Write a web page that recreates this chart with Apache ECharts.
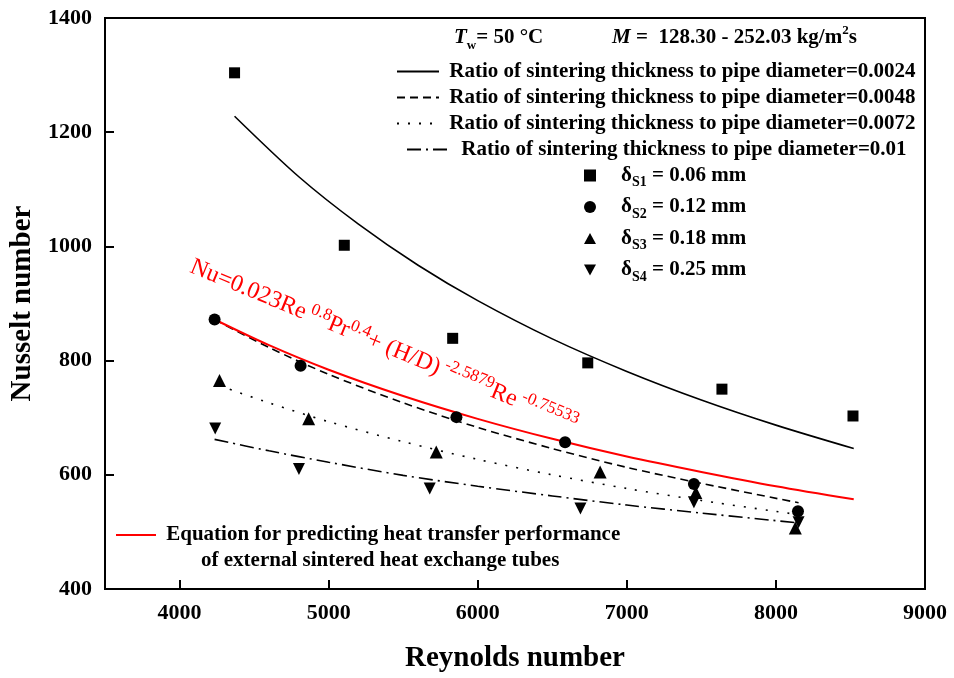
<!DOCTYPE html>
<html>
<head>
<meta charset="utf-8">
<title>Nusselt number vs Reynolds number</title>
<script src="https://cdn.jsdelivr.net/npm/echarts@6/dist/echarts.min.js"></script>
<style>
  html, body { margin: 0; padding: 0; background: #fff; }
  #chart { width: 954px; height: 678px; }
</style>
</head>
<body>
<div id="chart"></div>
<script>
// Measured points for each sintering thickness
const reynoldsS1 = [4369, 5105, 5832, 6738, 7638, 8517];
const nusseltS1  = [1304, 1002, 839, 796, 750, 703];
const reynoldsS2 = [4235, 4812, 5857, 6586, 7450, 8148];
const nusseltS2  = [872, 791, 701, 657, 584, 536];
const reynoldsS3 = [4268, 4866, 5722, 6821, 7463, 8130];
const nusseltS3  = [765, 698, 640, 605, 569, 507];
const reynoldsS4 = [4239, 4801, 5678, 6689, 7450, 8152];
const nusseltS4  = [681, 610, 576, 541, 552, 517];

// Fitted curves for each thickness-to-diameter ratio
const fitRe0024 = [4369, 4800, 5200, 5600, 6000, 6500, 7000, 7500, 8000, 8522];
const fitNu0024 = [1228, 1122, 1039, 967, 905, 838, 781, 731, 687, 646];
const fitRe0048 = [4235, 4600, 5000, 5500, 6000, 6500, 7000, 7500, 8152];
const fitNu0048 = [872, 823, 776, 726, 683, 646, 613, 585, 551];
const fitRe0072 = [4268, 4600, 5000, 5500, 6000, 6500, 7000, 7500, 8130];
const fitNu0072 = [756, 726, 693, 658, 627, 600, 576, 555, 531];
const fitRe0100 = [4235, 4600, 5000, 5500, 6000, 6500, 7000, 7500, 8140];
const fitNu0100 = [662, 642, 622, 599, 580, 563, 547, 533, 516];

// Prediction equation curve
const eqRe = [4235, 4600, 5000, 5500, 6000, 6500, 7000, 7500, 8000, 8522];
const eqNu = [872, 827, 784, 738, 698, 663, 632, 605, 580, 557];

// Axis ticks
const xTicks = [4000, 5000, 6000, 7000, 8000, 9000];

const ratioNames = [
  'Ratio of sintering thickness to pipe diameter=0.0024',
  'Ratio of sintering thickness to pipe diameter=0.0048',
  'Ratio of sintering thickness to pipe diameter=0.0072',
  'Ratio of sintering thickness to pipe diameter=0.01'
];
const markerNames = ['dS1', 'dS2', 'dS3', 'dS4'];
const markerLabels = {
  dS1: '{g|}{n|δ}{s|S1}{n| = 0.06 mm}',
  dS2: '{g|}{n|δ}{s|S2}{n| = 0.12 mm}',
  dS3: '{g|}{n|δ}{s|S3}{n| = 0.18 mm}',
  dS4: '{g|}{n|δ}{s|S4}{n| = 0.25 mm}'
};
const eqName = 'Equation for predicting heat transfer performance';
const eqName2 = 'of external sintered heat exchange tubes';

const zip = (xs, ys) => xs.map((x, i) => [x, ys[i]]);

const FONT = '"Liberation Serif", "Times New Roman", serif';
const tri = 'path://M5,0 L10,9 L0,9 Z';
const triDown = 'path://M0,0 L10,0 L5,9 Z';

function fitLine(name, xs, ys, type) {
  return {
    name, type: 'line', data: zip(xs, ys), smooth: 0.3,
    symbol: 'none', showSymbol: false, silent: true, z: 3,
    itemStyle: { color: '#000' },
    lineStyle: { color: '#000', width: 1.6, type }
  };
}
function points(name, xs, ys, symbol, size) {
  return {
    name, type: 'scatter', data: zip(xs, ys), symbol, symbolSize: size, z: 5,
    itemStyle: { color: '#000', opacity: 1 }
  };
}

const lineLegendText = { fontFamily: FONT, fontWeight: 'bold', fontSize: 21, lineHeight: 21, color: '#000' };

const chart = echarts.init(document.getElementById('chart'), null, { renderer: 'canvas' });

chart.setOption({
  animation: false,
  backgroundColor: '#fff',
  textStyle: { fontFamily: FONT },
  grid: { left: 105, right: 29, top: 18, bottom: 89, show: true, borderColor: '#000', borderWidth: 2 },
  xAxis: {
    type: 'value', min: 3500, max: 9000,
    name: 'Reynolds number', nameLocation: 'middle', nameGap: 55,
    nameTextStyle: { fontFamily: FONT, fontWeight: 'bold', fontSize: 29, color: '#000' },
    axisLine: { show: true, lineStyle: { color: '#000', width: 2 } },
    axisTick: { show: true, inside: true, length: 9, lineStyle: { color: '#000', width: 2 }, customValues: xTicks },
    axisLabel: { fontFamily: FONT, fontWeight: 'bold', fontSize: 22, color: '#000', margin: 13, customValues: xTicks, formatter: (v) => String(v) },
    splitLine: { show: false }
  },
  yAxis: {
    type: 'value', min: 400, max: 1400, interval: 200,
    name: 'Nusselt number', nameLocation: 'middle', nameGap: 64,
    nameTextStyle: { fontFamily: FONT, fontWeight: 'bold', fontSize: 29, color: '#000' },
    axisLine: { show: true, lineStyle: { color: '#000', width: 2 } },
    axisTick: { show: true, inside: true, length: 9, lineStyle: { color: '#000', width: 2 } },
    axisLabel: { fontFamily: FONT, fontWeight: 'bold', fontSize: 22, color: '#000', margin: 13, formatter: (v) => String(v) },
    splitLine: { show: false }
  },
  legend: [
    {
      data: ratioNames.slice(0, 3), orient: 'vertical', left: 396, top: 61, padding: 0,
      itemWidth: 42, itemHeight: 10, itemGap: 5, selectedMode: false,
      itemStyle: { opacity: 0 },
      formatter: (name) => ' ' + name,
      textStyle: lineLegendText
    },
    {
      data: [ratioNames[3]], orient: 'vertical', left: 406, top: 139, padding: 0,
      itemWidth: 44, itemHeight: 10, selectedMode: false,
      itemStyle: { opacity: 0 },
      formatter: (name) => ' ' + name,
      textStyle: lineLegendText
    },
    {
      data: markerNames, orient: 'vertical', left: 584, top: 165, padding: 0,
      itemWidth: 12, itemHeight: 12, itemGap: 7, selectedMode: false,
      formatter: (name) => markerLabels[name],
      textStyle: {
        color: '#000',
        rich: {
          g: { width: 20 },
          n: { fontFamily: FONT, fontWeight: 'bold', fontSize: 21, lineHeight: 28, color: '#000' },
          s: { fontFamily: FONT, fontWeight: 'bold', fontSize: 14, lineHeight: 14, verticalAlign: 'bottom', color: '#000' }
        }
      }
    },
    {
      data: [eqName], orient: 'vertical', left: 115, top: 524, padding: 0,
      itemWidth: 40, itemHeight: 10, selectedMode: false,
      itemStyle: { opacity: 0 },
      formatter: (name) => ' ' + name,
      textStyle: { fontFamily: FONT, fontWeight: 'bold', fontSize: 21, lineHeight: 22, color: '#000' }
    }
  ],
  series: [
    fitLine(ratioNames[0], fitRe0024, fitNu0024, 'solid'),
    fitLine(ratioNames[1], fitRe0048, fitNu0048, [8, 5]),
    fitLine(ratioNames[2], fitRe0072, fitNu0072, [2, 9]),
    fitLine(ratioNames[3], fitRe0100, fitNu0100, [14, 5, 2, 5]),
    {
      name: eqName, type: 'line', data: zip(eqRe, eqNu), smooth: 0.3,
      symbol: 'none', showSymbol: false, silent: true, z: 4,
      lineStyle: { color: '#ff0000', width: 2 }, itemStyle: { color: '#ff0000' }
    },
    points(markerNames[0], reynoldsS1, nusseltS1, 'rect', 11),
    points(markerNames[1], reynoldsS2, nusseltS2, 'circle', 12),
    points(markerNames[2], reynoldsS3, nusseltS3, tri, 13),
    points(markerNames[3], reynoldsS4, nusseltS4, triDown, 12)
  ],
  graphic: [
    {
      type: 'text', x: 201, y: 550, z: 10,
      style: {
        text: eqName2,
        font: 'bold 21px ' + FONT, fill: '#000'
      }
    },
    {
      type: 'text', x: 454, y: 24, z: 10,
      style: {
        text: '{i|T}{s|w}{n|= 50 °C}',
        rich: {
          i: { fontFamily: FONT, fontWeight: 'bold', fontStyle: 'italic', fontSize: 21, lineHeight: 28, fill: '#000' },
          s: { fontFamily: FONT, fontWeight: 'bold', fontSize: 13, lineHeight: 13, verticalAlign: 'bottom', fill: '#000' },
          n: { fontFamily: FONT, fontWeight: 'bold', fontSize: 21, lineHeight: 28, fill: '#000' }
        }
      }
    },
    {
      type: 'text', x: 612, y: 24, z: 10,
      style: {
        text: '{i|M}{n| =  128.30 - 252.03 kg/m}{p|2}{n|s}',
        rich: {
          i: { fontFamily: FONT, fontWeight: 'bold', fontStyle: 'italic', fontSize: 21, lineHeight: 28, fill: '#000' },
          p: { fontFamily: FONT, fontWeight: 'bold', fontSize: 13, lineHeight: 13, verticalAlign: 'top', fill: '#000' },
          n: { fontFamily: FONT, fontWeight: 'bold', fontSize: 21, lineHeight: 28, fill: '#000' }
        }
      }
    },
    {
      type: 'text', x: 197, y: 252, rotation: -0.393, z: 10,
      style: {
        text: '{m|Nu=0.023Re}{p| 0.8}{m|Pr}{p|0.4}{m|+ (H/D)}{p| -2.5879}{m|Re}{p| -0.75533}',
        rich: {
          m: { fontFamily: FONT, fontSize: 24, lineHeight: 30, fill: '#ff0000' },
          p: { fontFamily: FONT, fontSize: 17, lineHeight: 17, verticalAlign: 'top', fill: '#ff0000' }
        }
      }
    }
  ]
});
</script>
</body>
</html>
